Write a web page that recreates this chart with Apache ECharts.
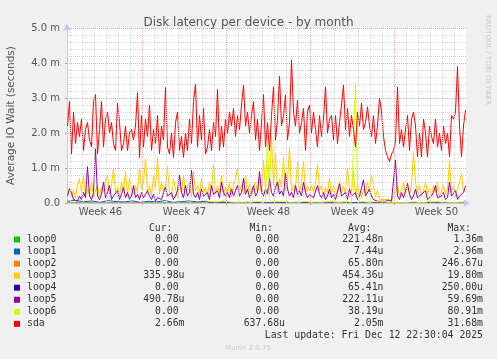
<!DOCTYPE html>
<html><head><meta charset="utf-8">
<script src="https://cdn.jsdelivr.net/npm/echarts@6/dist/echarts.min.js"></script>
<style>html,body{margin:0;padding:0;background:#f0f0f0;} #c{width:497px;height:359px;}</style>
</head><body><div id="c"></div>
<script>
// ---- data (x in days after Mon 10 Nov 2025 00:00; y in milliseconds) ----
const firstSample = 0.75;
const lastSample = 33.9167;
const weekStartDays = [7, 14, 21, 28];
const weekMidDays = [3.5, 10.5, 17.5, 24.5, 31.5];
const weekLabels = ['Week 46', 'Week 47', 'Week 48', 'Week 49', 'Week 50'];
const yTickLabels = ['0.0', '1.0 m', '2.0 m', '3.0 m', '4.0 m', '5.0 m'];

const seriesNames = ['loop0', 'loop1', 'loop2', 'loop3', 'loop4', 'loop5', 'loop6', 'sda'];
const seriesColors = ['#00cc00', '#0066b3', '#ff8000', '#ffcc00', '#330099', '#990099', '#ccff00', '#ff0000'];

const loop0 = [0,0,0,0,0,0,0,0,0,0,0,0];
const loop1 = [0.05,0.08,0.03,0.06,0.02,0.07,0.04,0.03,0.06,0.02,
  0.05,0.03,0.07,0.02,0.04,0.06,0.03,0.05,0.02,0.03,
  0.01,0,0.02,0,0.01,0,0,0.02,0,0.01,
  0,0.01,0,0,0.02,0,0.01,0,0,0.01,
  0,0,0.01,0,0,0.02,0,0,0.01,0];
const loop2 = [0,0,0,0,0,0,0,0,0,0,0,0];
const loop3 = [
  0.3,0.45,0.2,0.35,0.15,0.5,0.7,0.3,0.8,0.2, 0.4,0.25,0.6,0.15,0.35,0.5,0.2,0.45,0.3,0.7,
  0.8,0.25,0.5,1.0,0.3,0.45,0.2,0.6,0.35,0.9, 0.2,0.7,0.4,0.25,0.5,0.3,1.0,0.4,
  0.6,1.28,0.3,0.5,0.2,0.8,0.45,1.3,0.25,0.6, 0.35,0.5,1.04,0.3,0.2,0.7,0.4,0.15,0.55,0.3,
  0.8,0.25,0.5,0.6,0.2,0.9,0.35,0.5,0.2,0.7, 0.3,0.45,0.2,0.6,0.35,1.09,0.25,0.5,0.3,0.8, 0.2,0.45,
  0.3,0.6,0.2,0.5,0.7,1.0,0.35,0.5,0.25,0.8, 0.3,0.55,0.2,0.45,0.6,0.3,0.7,0.25,1.23,0.4,
  0.3,0.6,1.9,0.5,1.43,0.3,0.7,0.45,1.3,0.35, 0.6,1.6,0.3,0.5,0.4,1.18,0.3,0.6,1.2,0.25, 0.5,0.35,
  0.5,0.3,0.6,1.1,0.35,0.5,0.2,0.45,0.3,0.7, 0.25,0.5,0.2,0.4,0.6,0.3,0.5,0.25,1.0,0.4,
  0.3,0.9,0.2,0.5,0.3,0.15,0.4,0.25,0.6,0.3, 0.8,0.5,0.2,0.35,0.1,0.15,0.1,0.05,0.1,0.05, 0.08,0.1,
  0.3,0.5,0.2,0.4,0.6,0.3,0.45,0.25,0.5,1.45, 0.6,0.3,0.5,0.2,0.35,0.6,0.25,0.4,0.2,0.5,
  0.3,0.6,0.2,0.35,0.5,0.25,0.4,1.23,0.3,0.5, 0.2,0.4,0.6,0.85,0.3,0.34];
const loop4 = [0,0,0,0,0,0,0,0,0,0,0,0];
const loop5 = [
  0.2,0.4,0.3,0.1,0.15,0.05,0.2,0.1,0.3,0.15, 1.04,0.2,0.1,0.3,1.55,0.2,0.1,0.25,0.6,0.15,
  0.3,0.5,0.1,0.2,0.15,0.35,0.1,0.25,0.45,0.15, 0.3,0.1,0.2,0.5,0.15,0.25,0.1,0.3,
  0.15,0.1,0.35,0.2,0.1,0.25,0.05,0.15,0.2,0.1, 0.3,0.45,0.2,0.15,0.3,0.1,0.2,0.35,0.8,0.3,
  0.15,0.5,0.2,0.3,0.94,0.25,0.15,0.3,0.1,0.4, 0.2,0.15,0.3,0.1,0.5,0.25,0.2,0.35,0.15,0.6, 0.3,0.2,
  0.3,0.15,0.4,0.2,0.35,0.5,0.2,0.3,0.7,0.25, 0.4,0.15,0.3,0.5,0.2,0.3,0.9,0.35,0.2,0.4,
  0.25,0.7,0.3,0.2,0.45,0.6,0.25,0.35,0.2,0.85, 0.4,0.2,0.3,0.15,0.5,0.25,0.35,0.2,0.6,0.3, 0.15,0.25,
  0.3,0.15,0.2,0.5,0.25,0.15,0.3,0.1,0.2,0.4, 0.15,0.25,0.1,0.3,0.55,0.2,0.15,0.3,0.1,0.4,
  0.2,0.15,0.3,0.1,0.2,0.25,0.66,0.2,0.15,0.4, 0.2,0.1,0.15,0.05,0.1,0.05,0.1,0.05,0.08,0.1, 0.05,0.1,
  1.23,0.2,0.1,0.3,0.15,0.2,0.56,0.25,0.1,0.2, 0.4,0.15,0.1,0.25,0.2,0.35,0.1,0.15,0.2,0.3,
  0.5,0.15,0.1,0.2,0.3,0.1,0.15,0.6,0.2,0.15, 0.35,0.1,0.2,0.15,0.3,0.49];
const loop6 = [
  0,0,0,0,0,0,0,0,0,0, 0,0,0,0,0,0,0,0,0,0, 0,0,0,0,0,0,0,0,0,0, 0,0,0,0,0,0,0,0,0,0,
  0,0,0,0,0,0,0,0,0,0, 0,0,0,0,0,0,0,0,0,0, 0,0,0,0,0,0,0,0,0,0,
  0.03,0.05,0.02,0.04,0.08,0.03,0.02,0.05,0.03,0.1, 0.04,0.02,0.03,0.06,0.02,0.04,0.03,0.05,0.02,0.04,
  0.03,0.07,0.02,0.03,0.05,0.02,0.04,0.03,0.02,0.05,
  1.9,0.1,0.04,0.03,0.05,0.02,0.04,0.03,0.06,0.02, 0.03,0.05,0.02,0.04,0.03,0.08,0.02,0.03,0.05,0.02,
  0.04,0.03,0.02,0.05,0.03,0.04,0.02,0.06,0.03,0.02, 0.04,0.03,0.05,0.02,0.03,0.04,0.02,0.05,0.03,0.02,
  0.04,0.03,0.02,0.05,
  3.43,0.3,0.03,0.02,0.04,0.03,0.02,0.05,0.03,0.02, 0.04,0.02,0.03,0.02,0.04,0.03,0.02,0.03,0.02,0.04,
  0.02,0.03,0.02,0.05,0.02,0.03,0.02,0.04,0.03,0.02, 0.03,0.02,0.04,0.02,0.03,0.02,0.03,0.05,0.02,0.03,
  0.02,0.04,0.02,0.03,0.02,0.03,0.02,0.04,0.02,0.03, 0.02,0.03,0.02,0.02,0.03,0.00];
const sda = [
  2.2,2.9,1.4,2.6,1.7,2.3,1.9,2.4,1.5,2.1, 2.3,1.8,1.6,2.9,3.1,1.4,2.1,2.9,1.6,2.4,
  2.6,2.0,2.3,1.7,1.5,2.85,2.3,1.5,1.7,2.2, 1.5,2.0,2.1,1.8,2.2,3.15,1.3,2.5,
  1.6,2.4,1.9,2.8,1.5,2.1,1.7,2.5,1.4,2.2, 1.8,3.3,1.6,1.4,2.0,1.3,2.3,2.6,1.5,1.9,
  1.3,2.0,1.5,2.4,1.7,2.9,3.4,1.6,2.5,1.8, 2.7,1.4,1.6,2.1,1.5,2.3,1.9,3.25,1.5,2.2, 1.6,2.4,
  2.0,2.6,2.2,2.7,1.9,2.5,2.1,2.8,3.37,2.2, 2.6,2.0,2.5,2.9,1.8,2.4,1.5,2.3,3.1,1.6,
  2.3,1.5,2.5,3.32,1.8,2.4,3.63,2.2,2.5,3.09, 1.8,2.3,4.09,2.6,2.2,2.94,2.0,2.3,2.7,1.5, 2.6,2.8,
  2.0,2.6,2.1,1.6,2.5,1.9,2.4,3.32,2.0,2.4, 2.5,1.8,2.5,1.7,2.3,2.8,3.37,2.1,2.7,1.9,
  2.5,2.1,1.6,2.6,2.2,2.85,2.1,2.3,2.75,2.2, 1.9,2.5,1.7,2.2,3.0,2.6,1.9,1.5,1.32,1.18, 1.4,1.5,
  1.75,3.32,1.7,2.1,1.6,2.1,2.5,1.5,2.4,2.6, 2.2,1.32,2.0,1.32,2.4,2.0,1.32,2.2,1.9,1.7,
  2.4,1.6,2.0,1.5,2.2,1.7,2.0,1.32,2.5,2.4, 2.6,3.9,2.2,1.32,2.2,2.66];

const curValues = ['0.00 ', '0.00 ', '0.00 ', '335.98u', '0.00 ', '490.78u', '0.00 ', '2.66m'];
const minValues = ['0.00 ', '0.00 ', '0.00 ', '0.00 ', '0.00 ', '0.00 ', '0.00 ', '637.68u'];
const avgValues = ['221.48n', '7.44u', '65.80n', '454.36u', '65.41n', '222.11u', '38.19u', '2.05m'];
const maxValues = ['1.36m', '2.96m', '246.67u', '19.80m', '250.00u', '59.69m', '80.91m', '31.68m'];
const lastUpdate = 'Last update: Fri Dec 12 22:30:04 2025';

// ---- chart ----
const seriesData = [loop0, loop1, loop2, loop3, loop4, loop5, loop6, sda];
function pairs(arr) {
  const n = arr.length;
  return arr.map((v, i) => [firstSample + i * (lastSample - firstSample) / (n - 1), v]);
}
const xMin = 7 - 75.5 / 12;
const xMax = xMin + 399 / 12;

const gridRed = '#eaa6a6';
const gridGray = '#d6d6d6';
const dayLines = [];
for (let d = 1; d < xMax; d++) dayLines.push(d);

const series = [{
  type: 'line', name: 'grid', data: [[xMin, 0]], showSymbol: false, silent: true, z: 1,
  lineStyle: { opacity: 0 },
  markLine: {
    silent: true, symbol: ['none', 'none'], label: { show: false }, animation: false,
    data: dayLines.map(d => ({
      xAxis: d,
      lineStyle: { color: weekStartDays.includes(d) ? gridRed : gridGray, type: [1, 1], width: 1 }
    }))
  }
}];
seriesData.forEach((arr, k) => {
  series.push({
    type: 'line', name: seriesNames[k], data: pairs(arr), showSymbol: false, z: 2 + k * 0.01,
    lineStyle: { color: seriesColors[k], width: 1 }, itemStyle: { color: seriesColors[k] },
    animation: false, silent: true
  });
});

const mono = '"DejaVu Sans Mono", monospace';
const txt = (x, y, text, align, font, fill) => ({
  type: 'text', silent: true,
  style: { x, y, text, align, textAlign: align, verticalAlign: 'middle', textVerticalAlign: 'middle', font, fill }
});
const graphics = [];
const legFont = '9.8px ' + mono;
const legColor = '#333';
graphics.push(txt(172.5, 228, 'Cur:', 'right', legFont, legColor));
graphics.push(txt(273, 228, 'Min:', 'right', legFont, legColor));
graphics.push(txt(371.5, 228, 'Avg:', 'right', legFont, legColor));
graphics.push(txt(471, 228, 'Max:', 'right', legFont, legColor));
seriesNames.forEach((nm, k) => {
  const y = 239.5 + 12.05 * k;
  graphics.push({ type: 'rect', silent: true, shape: { x: 14, y: y - 3, width: 6, height: 6 }, style: { fill: seriesColors[k] } });
  graphics.push(txt(27, y, nm, 'left', legFont, legColor));
  graphics.push(txt(184.5, y, curValues[k], 'right', legFont, legColor));
  graphics.push(txt(285, y, minValues[k], 'right', legFont, legColor));
  graphics.push(txt(383.5, y, avgValues[k], 'right', legFont, legColor));
  graphics.push(txt(483, y, maxValues[k], 'right', legFont, legColor));
});
graphics.push(txt(483, 335.5, lastUpdate, 'right', legFont, legColor));
graphics.push(txt(248, 348.5, 'Munin 2.0.75', 'center', '7px "DejaVu Sans", sans-serif', '#c8c8c8'));
graphics.push({
  type: 'text', silent: true, x: 488, y: 15, rotation: -Math.PI / 2,
  style: { x: 0, y: 0, text: 'RRDTOOL / TOBI OETIKER', align: 'left', textAlign: 'left', verticalAlign: 'middle', textVerticalAlign: 'middle', font: '7px "DejaVu Sans", sans-serif', fill: '#c8c8c8' }
});

const axisBlue = '#c4c4f2';
const option = {
  animation: false,
  backgroundColor: '#f0f0f0',
  title: {
    text: 'Disk latency per device - by month', left: 'center', top: 12,
    textStyle: { fontFamily: 'DejaVu Sans', fontSize: 12, fontWeight: 'normal', color: '#555' }
  },
  grid: { left: 67, right: 31, top: 28, bottom: 156, show: true, backgroundColor: '#ffffff', borderWidth: 0, containLabel: false, outerBoundsMode: 'none' },
  xAxis: {
    type: 'value', min: xMin, max: xMax, z: 5,
    axisLine: { show: true, onZero: false, lineStyle: { color: axisBlue, width: 1 }, symbol: ['none', 'arrow'], symbolSize: [6, 7], symbolOffset: [0, 4] },
    axisTick: { show: true, customValues: weekStartDays, length: 2, lineStyle: { color: '#e08a8a' } },
    axisLabel: {
      customValues: weekMidDays,
      formatter: v => {
        let best = 0;
        weekMidDays.forEach((m, i) => { if (Math.abs(m - v) < Math.abs(weekMidDays[best] - v)) best = i; });
        return weekLabels[best];
      },
      fontFamily: 'DejaVu Sans', fontSize: 10, color: '#555', margin: 4
    },
    splitLine: { show: false }
  },
  yAxis: {
    type: 'value', min: 0, max: 5, interval: 1,
    name: 'Average IO Wait (seconds)', nameLocation: 'middle', nameGap: 50,
    nameTextStyle: { fontFamily: 'DejaVu Sans', fontSize: 10.5, color: '#555' },
    axisLine: { show: true, lineStyle: { color: axisBlue, width: 1 }, symbol: ['none', 'arrow'], symbolSize: [6, 7], symbolOffset: [0, 4] },
    axisTick: { show: true, length: 2, lineStyle: { color: '#e08a8a' } },
    axisLabel: { formatter: v => yTickLabels[Math.round(v)], fontFamily: 'DejaVu Sans', fontSize: 10, color: '#555', margin: 7 },
    splitLine: { show: true, lineStyle: { color: gridRed, type: [1, 1], width: 1 } },
    minorTick: { show: false, splitNumber: 5 },
    minorSplitLine: { show: true, lineStyle: { color: gridGray, type: [1, 1], width: 1 } }
  },
  series: series,
  graphic: { elements: graphics }
};
const chart = echarts.init(document.getElementById('c'), null, { renderer: 'canvas' });
chart.setOption(option);
</script></body></html>
